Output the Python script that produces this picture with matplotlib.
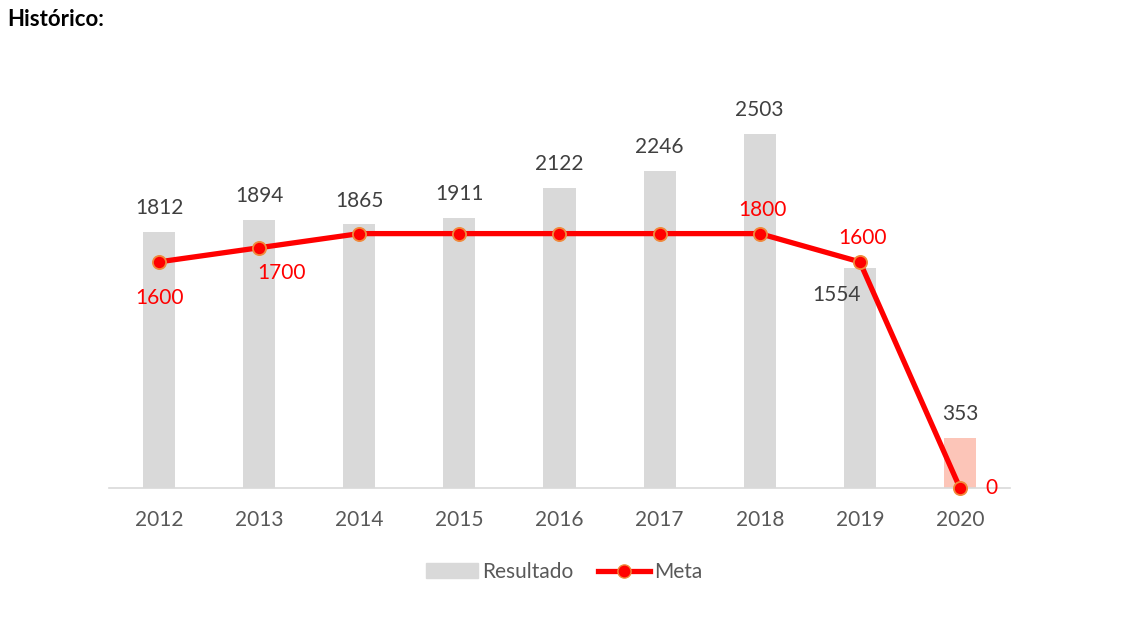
import matplotlib.pyplot as plt
from matplotlib.lines import Line2D
from matplotlib.patches import Patch

anos = ['2012', '2013', '2014', '2015', '2016', '2017', '2018', '2019', '2020']
resultado = [1812, 1894, 1865, 1911, 2122, 2246, 2503, 1554, 353]
meta = [1600, 1700, 1800, 1800, 1800, 1800, 1800, 1600, 0]

# only some meta points carry a label: (index, dx pt, dy pt, ha, va)
meta_rotulos = [(0, 0, -19, 'center', 'top'), (1, 16, -11, 'center', 'top'),
                (6, 2, 10, 'center', 'bottom'), (7, 2, 10, 'center', 'bottom'),
                (8, 18, 0, 'left', 'center')]

plt.rcParams['font.family'] = ['Lato', 'DejaVu Sans']

fig = plt.figure(figsize=(11.26, 6.17), dpi=100)
ax = fig.add_axes([109 / 1126, (617 - 488) / 617, 901 / 1126, 424 / 617])

x = list(range(len(anos)))
cores = ['#d9d9d9'] * (len(anos) - 1) + ['#fcc5b8']
ax.bar(x, resultado, width=0.32, color=cores, zorder=1)

ax.plot(x, meta, color='#ff0000', lw=3.8, marker='o', ms=9.5,
        mfc='#ff0000', mec='#f08a3c', mew=1.3, zorder=3, clip_on=False)

cinza = '#404040'
for i, v in enumerate(resultado):
    if i == 7:
        ax.annotate(str(v), (i, v), xytext=(-17, -12), textcoords='offset points',
                    ha='center', va='top', fontsize=15, color=cinza)
    else:
        ax.annotate(str(v), (i, v), xytext=(0, 10), textcoords='offset points',
                    ha='center', va='bottom', fontsize=15, color=cinza)

for i, dx, dy, ha, va in meta_rotulos:
    ax.annotate(str(meta[i]), (i, meta[i]), xytext=(dx, dy), textcoords='offset points',
                ha=ha, va=va, fontsize=15, color='#ff0000')

ax.set_xlim(-0.5, 8.5)
ax.set_ylim(0, 3000)
ax.set_xticks(x)
ax.set_xticklabels(anos, fontsize=15, color='#595959')
ax.set_yticks([])
ax.tick_params(axis='x', length=0, pad=16)
for s in ['top', 'right', 'left']:
    ax.spines[s].set_visible(False)
ax.spines['bottom'].set_color('#d9d9d9')
ax.spines['bottom'].set_linewidth(1.2)

handles = [Patch(color='#d9d9d9', label='Resultado'),
           Line2D([], [], color='#ff0000', lw=3.8, marker='o', ms=9.5,
                  mfc='#ff0000', mec='#f08a3c', label='Meta')]
fig.legend(handles=handles, loc='center', bbox_to_anchor=(564 / 1126, 1 - 572 / 617),
           ncol=2, frameon=False, fontsize=15, labelcolor='#595959',
           handlelength=2.5, handletextpad=0.2, columnspacing=1.2)

fig.text(7 / 1126, 1 - 20 / 617, 'Histórico:', fontsize=16, fontweight='bold',
         va='center', ha='left')

fig.savefig('out.png', dpi=100)
